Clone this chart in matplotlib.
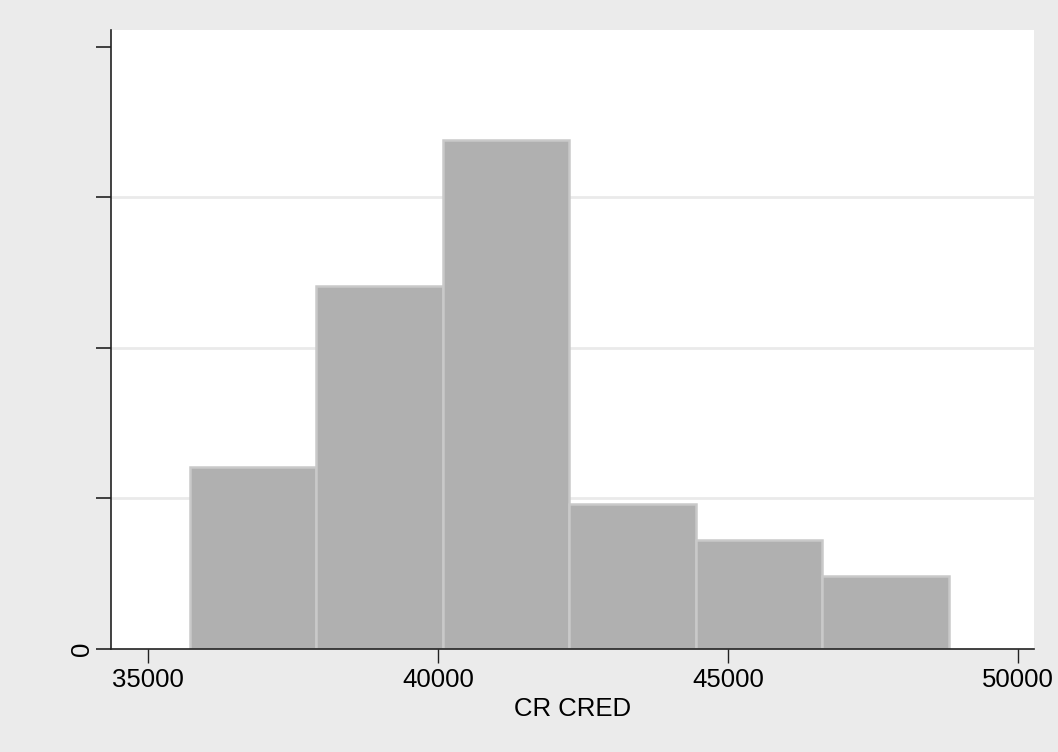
import matplotlib
matplotlib.use("Agg")
import matplotlib.pyplot as plt
import numpy as np

plt.rcParams['font.family'] = ['Liberation Sans', 'DejaVu Sans']

# Histogram of CR CRED: six equal-width bins
bin_start = 35724
bin_end = 48810
counts = [5, 10, 14, 4, 3, 2]
x_ticks = [35000, 40000, 45000, 50000]
y_ticks = [0, 0.00005, 0.0001, 0.00015, 0.0002]
y_tick_labels = ["0", "", "", "", ""]
x_label = "CR CRED"

n_bins = len(counts)
edges = np.linspace(bin_start, bin_end, n_bins + 1)
width = edges[1] - edges[0]
density = np.array(counts) / (sum(counts) * width)

fig = plt.figure(figsize=(10.58, 7.52), dpi=100, facecolor="#EBEBEB")
ax = fig.add_axes([0.1049, 0.137, 0.8724, 0.823])
ax.set_facecolor("white")

# horizontal grid lines at interior y ticks
for yv in y_ticks[1:-1]:
    ax.axhline(yv, color="#EAEAEA", lw=2, zorder=0)

ax.bar(edges[:-1], density, width=width, align="edge",
       color="#B0B0B0", edgecolor="#C9C9C9", linewidth=1.8, zorder=2)

ax.set_xlim(34362, 50276)
ax.set_ylim(0, 0.0002055)
ax.set_xticks(x_ticks)
ax.set_xticklabels([str(v) for v in x_ticks], fontsize=18.5)
ax.set_yticks(y_ticks)
ax.set_yticklabels(y_tick_labels, fontsize=18.5, rotation=90, va="center")

for side in ("top", "right"):
    ax.spines[side].set_visible(False)
for side in ("left", "bottom"):
    ax.spines[side].set_color("#222222")
    ax.spines[side].set_linewidth(1.2)

ax.tick_params(axis="x", length=10, width=1, color="#222222", pad=4)
ax.tick_params(axis="y", length=11, width=1.2, color="#222222", pad=1.5)

ax.set_xlabel(x_label, fontsize=18.5, labelpad=3)

fig.savefig("out.png", dpi=100, facecolor=fig.get_facecolor())
